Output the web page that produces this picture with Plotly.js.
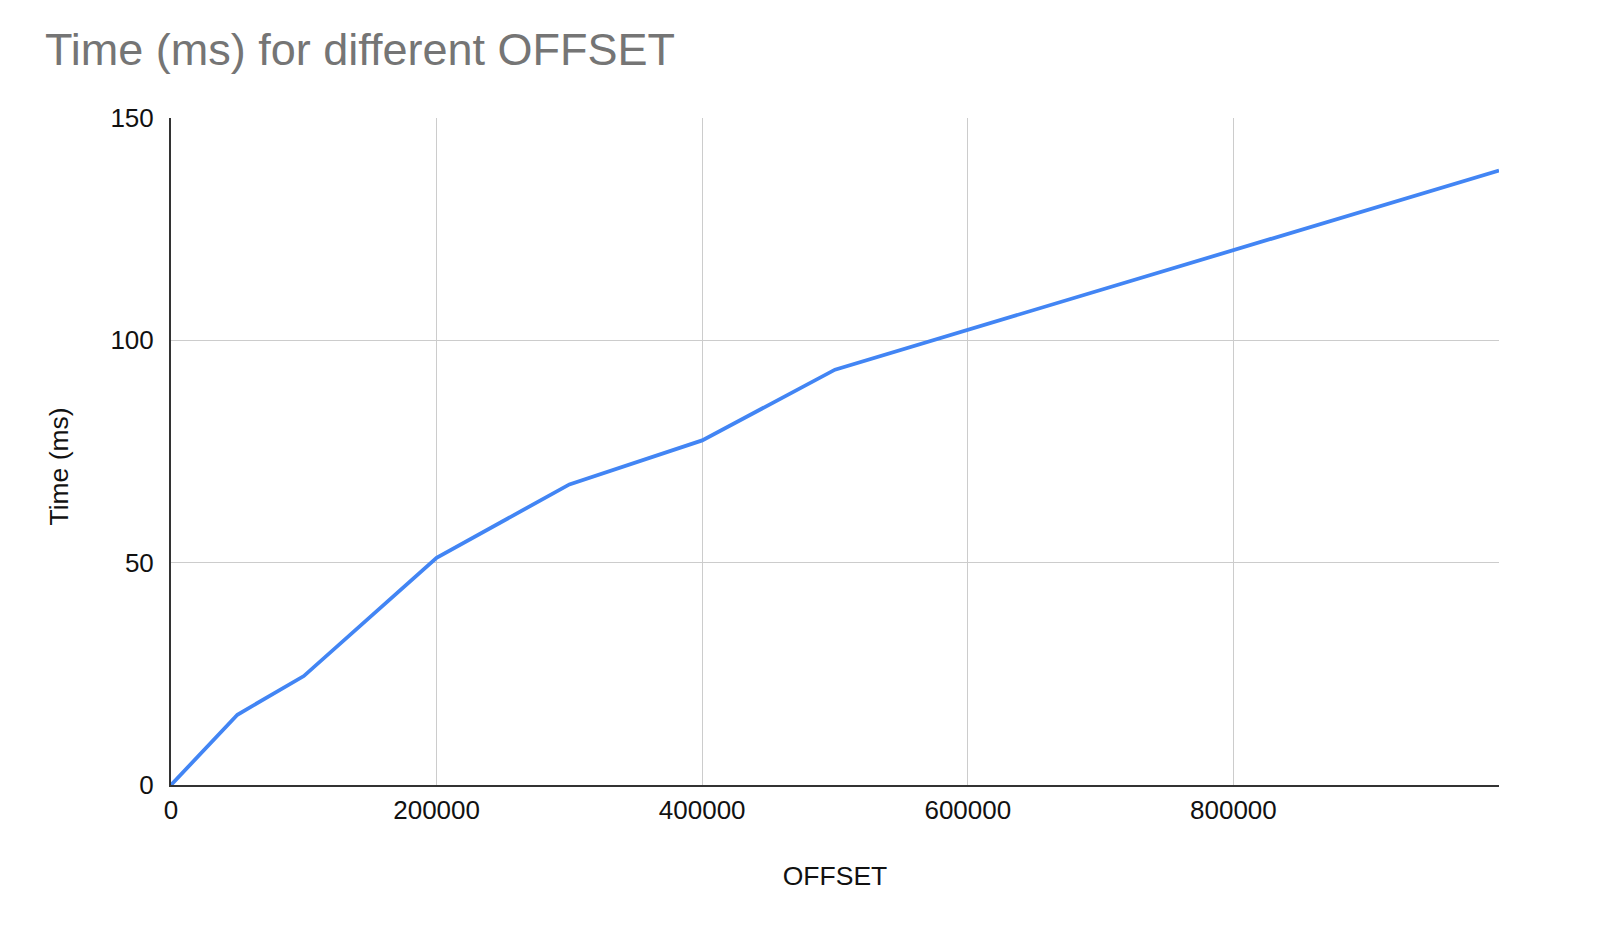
<!DOCTYPE html>
<html>
<head>
<meta charset="utf-8">
<script src="https://cdn.plot.ly/plotly-3.0.1.min.js"></script>
<style>
  html, body { margin: 0; padding: 0; background: #fff; }
  #chart { width: 1600px; height: 926px; }
</style>
</head>
<body>
<div id="chart"></div>
<script>
const offsets = [0, 50000, 100000, 200000, 300000, 400000, 500000, 1000000];
const timesMs = [0, 15.8, 24.5, 51.1, 67.6, 77.5, 93.4, 138.2];
const xTickVals = [0, 200000, 400000, 600000, 800000];
const xTickText = ['0', '200000', '400000', '600000', '800000'];
const yTickVals = [0, 50, 100, 150];
const yTickText = ['0', '50', '100', '150'];

const fontFamily = 'Liberation Sans, Arial, Helvetica, sans-serif';

const trace = {
  x: offsets,
  y: timesMs,
  type: 'scatter',
  mode: 'lines',
  line: { color: '#4285F4', width: 3.8 },
  hoverinfo: 'x+y',
  cliponaxis: false
};

const layout = {
  width: 1600,
  height: 926,
  margin: { l: 170.5, r: 101, t: 118, b: 141 },
  paper_bgcolor: '#ffffff',
  plot_bgcolor: '#ffffff',
  showlegend: false,
  font: { family: fontFamily, size: 26, color: '#222222' },
  title: {
    text: 'Time (ms) for different OFFSET',
    font: { family: fontFamily, size: 45, color: '#757575' },
    xref: 'container', yref: 'container',
    x: 45 / 1600, xanchor: 'left',
    y: 1 - 49 / 926, yanchor: 'middle'
  },
  xaxis: {
    range: [0, 1000000],
    tickmode: 'array',
    tickvals: xTickVals,
    ticktext: xTickText,
    showgrid: true,
    gridcolor: '#cccccc',
    gridwidth: 1.3,
    zeroline: false,
    showline: true,
    linecolor: '#333333',
    linewidth: 2,
    ticks: '',
    ticklabelstandoff: 1,
    tickfont: { family: fontFamily, size: 26, color: '#111111' },
    title: { text: 'OFFSET', font: { family: fontFamily, size: 26.5, color: '#111111' }, standoff: 42 }
  },
  yaxis: {
    range: [0, 150],
    tickmode: 'array',
    tickvals: yTickVals,
    ticktext: yTickText,
    showgrid: true,
    gridcolor: '#cccccc',
    gridwidth: 1.3,
    zeroline: false,
    showline: true,
    linecolor: '#333333',
    linewidth: 2,
    ticks: '',
    ticklabelstandoff: 10,
    tickfont: { family: fontFamily, size: 26, color: '#111111' }
  },
  annotations: [{
    text: 'Time (ms)',
    textangle: -90,
    xref: 'paper', yref: 'paper',
    x: (58 - 170.5) / 1328.5, xanchor: 'center',
    y: (785 - 467) / 667, yanchor: 'middle',
    showarrow: false,
    font: { family: fontFamily, size: 26.5, color: '#111111' }
  }]
};

Plotly.newPlot('chart', [trace], layout, { displayModeBar: false, staticPlot: true });
</script>
</body>
</html>
